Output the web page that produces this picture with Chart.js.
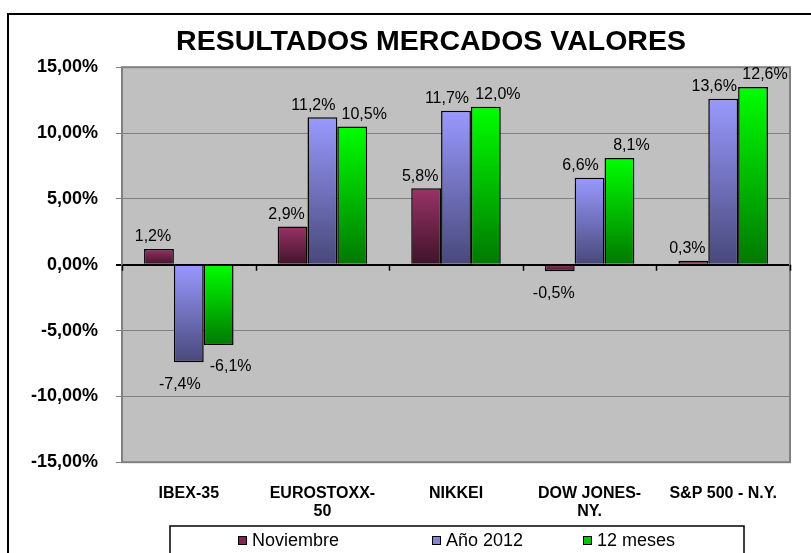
<!DOCTYPE html>
<html>
<head>
<meta charset="utf-8">
<script src="https://cdn.jsdelivr.net/npm/chart.js@4.4.0/dist/chart.umd.min.js"></script>
<style>
html, body { margin: 0; padding: 0; background: #fff; overflow: hidden; }
#wrap { width: 811px; height: 553px; position: relative; overflow: hidden; }
</style>
</head>
<body>
<div id="wrap"><canvas id="mercados" width="862" height="553"></canvas></div>
<script>
const categories = ['IBEX-35', ['EUROSTOXX-', '50'], 'NIKKEI', ['DOW JONES-', 'NY.'], 'S&P 500 - N.Y.'];
const noviembre = [1.2, 2.9, 5.8, -0.5, 0.3];
const anio2012 = [-7.4, 11.2, 11.7, 6.6, 12.6];
const doceMeses = [-6.1, 10.5, 12.0, 8.1, 13.5];
// texts as printed on the chart
const noviembreLabels = ['1,2%', '2,9%', '5,8%', '-0,5%', '0,3%'];
const anio2012Labels = ['-7,4%', '11,2%', '11,7%', '6,6%', '13,6%'];
const doceMesesLabels = ['-6,1%', '10,5%', '12,0%', '8,1%', '12,6%'];
const yTicks = [-15, -10, -5, 0, 5, 10, 15];

const FONT = "'Liberation Sans', Arial, sans-serif";
Chart.defaults.font.family = FONT;
Chart.defaults.color = '#000';

function barGradient(light, dark) {
    return function (c) {
        const chart = c.chart;
        if (!chart.chartArea || c.raw === undefined) return light;
        const y = chart.scales.y;
        const top = y.getPixelForValue(Math.max(c.raw, 0));
        const bottom = y.getPixelForValue(Math.min(c.raw, 0));
        if (bottom - top < 2) return dark;
        const g = chart.ctx.createLinearGradient(0, top, 0, bottom);
        g.addColorStop(0, light);
        g.addColorStop(1, dark);
        return g;
    };
}

// white background, outer frame, grey plot area
const frame = {
    id: 'frame',
    beforeDraw(chart) {
        const { ctx, chartArea: a } = chart;
        ctx.save();
        ctx.fillStyle = '#fff';
        ctx.fillRect(0, 0, chart.width, chart.height);
        ctx.strokeStyle = '#000';
        ctx.lineWidth = 2;
        ctx.strokeRect(8, 14, chart.width - 16, chart.height + 20);
        ctx.fillStyle = '#c0c0c0';
        ctx.fillRect(a.left, a.top, a.right - a.left, a.bottom - a.top);
        ctx.restore();
    },
    beforeDatasetsDraw(chart) {
        const { ctx, chartArea: a } = chart;
        ctx.save();
        ctx.strokeStyle = '#808080';
        ctx.lineWidth = 2;
        ctx.strokeRect(a.left, a.top, a.right - a.left, a.bottom - a.top);
        ctx.restore();
    }
};

// value texts, small ticks on the zero line, boxed legend
const extras = {
    id: 'extras',
    afterDatasetsDraw(chart) {
        const { ctx, chartArea: a } = chart;
        const y0 = chart.scales.y.getPixelForValue(0);
        ctx.save();
        ctx.strokeStyle = '#000';
        ctx.lineWidth = 1.5;
        const step = (a.right - a.left) / categories.length;
        for (let i = 0; i <= categories.length; i++) {
            const x = Math.round(a.left + i * step) + 0.5;
            ctx.beginPath();
            ctx.moveTo(x, y0);
            ctx.lineTo(x, y0 + 6);
            ctx.stroke();
        }
        ctx.font = '16px ' + FONT;
        ctx.fillStyle = '#000';
        ctx.textAlign = 'center';
        ctx.textBaseline = 'middle';
        chart.data.datasets.forEach((ds, di) => {
            chart.getDatasetMeta(di).data.forEach((bar, i) => {
                const v = ds.data[i];
                const ty = v >= 0 ? bar.y - 12 : bar.y + 22;
                ctx.fillText(ds.valueLabels[i], bar.x + ds.labelShift, ty);
            });
        });
        ctx.restore();
    },
    afterDraw(chart) {
        const { ctx, chartArea: a } = chart;
        const top = chart.height - 27;
        ctx.save();
        ctx.strokeStyle = '#000';
        ctx.lineWidth = 1.5;
        ctx.strokeRect(a.left + 48, top, a.right - a.left - 94, 60);
        const offsets = [116, 310, 461];
        ctx.font = '18px ' + FONT;
        ctx.textBaseline = 'middle';
        ctx.textAlign = 'left';
        chart.data.datasets.forEach((ds, i) => {
            const x = a.left + offsets[i];
            const cy = top + 14.5;
            ctx.fillStyle = ds.legendColor;
            ctx.fillRect(x, cy - 4.5, 9, 9);
            ctx.lineWidth = 1;
            ctx.strokeRect(x + 0.5, cy - 4, 8, 8);
            ctx.fillStyle = '#000';
            ctx.fillText(ds.label, x + 14, cy + 1);
        });
        ctx.restore();
    }
};

new Chart(document.getElementById('mercados'), {
    type: 'bar',
    data: {
        labels: categories,
        datasets: [{
            label: 'Noviembre',
            data: noviembre,
            valueLabels: noviembreLabels,
            labelShift: -6,
            legendColor: '#7a2952',
            backgroundColor: barGradient('#993366', '#3f1329'),
            borderColor: '#000',
            borderWidth: 1.5
        }, {
            label: 'Año 2012',
            data: anio2012,
            valueLabels: anio2012Labels,
            labelShift: -9,
            legendColor: '#8585d8',
            backgroundColor: barGradient('#9999ff', '#48487a'),
            borderColor: '#000',
            borderWidth: 1.5
        }, {
            label: '12 meses',
            data: doceMeses,
            valueLabels: doceMesesLabels,
            labelShift: 12,
            legendColor: '#00c800',
            backgroundColor: barGradient('#00ff00', '#007800'),
            borderColor: '#000',
            borderWidth: 1.5
        }]
    },
    options: {
        responsive: false,
        animation: false,
        categoryPercentage: 0.67,
        barPercentage: 1,
        layout: { padding: { top: 0, left: 8, right: 8, bottom: 10 } },
        scales: {
            x: {
                grid: { display: false, drawTicks: false },
                border: { display: false },
                ticks: {
                    font: { size: 16, weight: 'bold', lineHeight: 1.15 },
                    color: '#000',
                    padding: 22,
                    maxRotation: 0,
                    autoSkip: false
                }
            },
            y: {
                min: -15,
                max: 15,
                afterFit: s => { s.width = 114; },
                afterBuildTicks: s => { s.ticks = yTicks.map(v => ({ value: v })); },
                grid: {
                    color: c => (c.tick && c.tick.value === 0 ? '#000' : '#808080'),
                    lineWidth: c => (c.tick && c.tick.value === 0 ? 2 : 1),
                    tickLength: 6
                },
                border: { display: false },
                ticks: {
                    font: { size: 18, weight: 'bold' },
                    color: '#000',
                    padding: 18,
                    callback: v => v.toFixed(2).replace('.', ',') + '%'
                }
            },
            // empty right-hand strip: the picture is a crop of a wider chart
            yRight: {
                position: 'right',
                afterFit: s => { s.width = 64; },
                grid: { display: false, drawTicks: false },
                border: { display: false },
                ticks: { display: false }
            }
        },
        plugins: {
            title: {
                display: true,
                text: 'RESULTADOS MERCADOS VALORES',
                font: { size: 28.5, weight: 'bold' },
                color: '#000',
                padding: { top: 25, bottom: 8 }
            },
            legend: { display: false },
            tooltip: { enabled: false }
        }
    },
    plugins: [frame, extras]
});
</script>
</body>
</html>
